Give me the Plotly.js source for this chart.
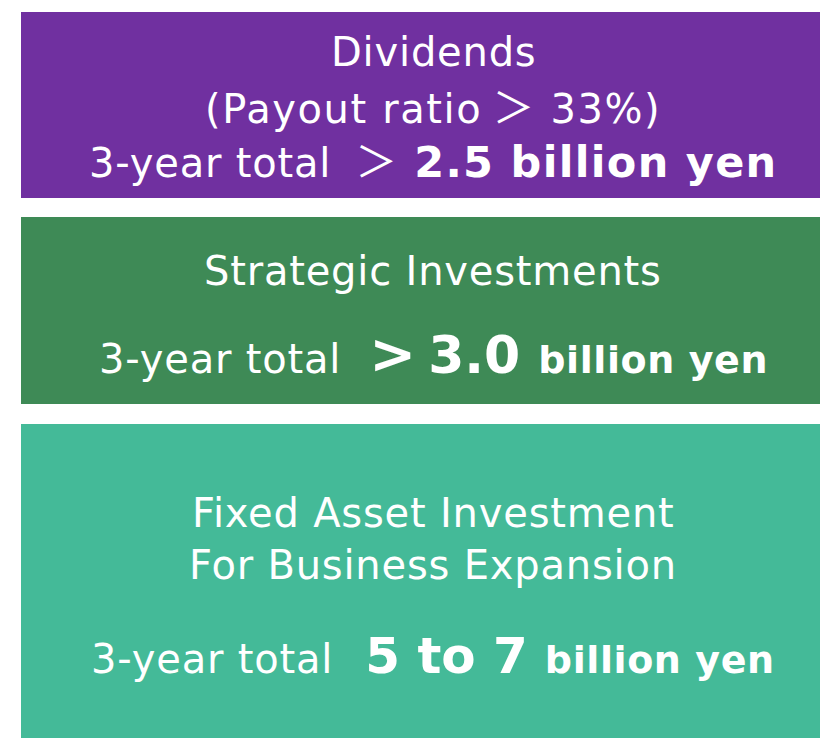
<!DOCTYPE html>
<html>
<head>
<meta charset="utf-8">
<script src="https://cdn.plot.ly/plotly-3.0.1.min.js"></script>
<style>html,body{margin:0;padding:0;background:#fff;}#chart{width:821px;height:738px;}</style>
</head>
<body>
<div id="chart"></div>
<script>
// ---- data ----
const categories = ["Dividends", "Strategic Investments", "Fixed Asset Investment"];
const headingLines = [
  ["Dividends", "(Payout ratio ＞ 33%)"],
  ["Strategic Investments"],
  ["Fixed Asset Investment", "For Business Expansion"]
];
const totalLabel = "3-year total";
const comparators = ["＞", ">", ""];
const amounts = ["2.5", "3.0", "5 to 7"];
const unitLabel = "billion yen";

// ---- layout / style constants ----
const W = 821, H = 738;
const boxLeft = 21, boxRight = 820;
const boxTop = [12, 217, 424];
const boxBottom = [198, 404, 738];
const boxColors = ["#7030A0", "#3E8A56", "#44BA98"];
const headingY = [[52, 104], [271], [513, 565]];
const totalY = [158, 353, 656];
const textCenterX = 433;
const FONT = "DejaVu Sans";
const CJK = "Noto Sans CJK JP";

const trace = {
  type: "bar",
  orientation: "h",
  y: categories.map((c, i) => (boxTop[i] + boxBottom[i]) / 2),
  x: categories.map(() => boxRight - boxLeft),
  base: boxLeft,
  width: categories.map((c, i) => boxBottom[i] - boxTop[i]),
  marker: { color: boxColors, line: { width: 0 } },
  text: categories,
  textposition: "none",
  hoverinfo: "text"
};

const sp = (txt, size, ls, bold, fam) => {
  const f = fam ? `font-family:'${fam}';` : "";
  const s = `<span style="${f}font-size:${size}px;letter-spacing:${ls}px">${txt}</span>`;
  return bold ? `<b>${s}</b>` : s;
};
const gap = (px) => `<span style="font-size:10px;letter-spacing:${px - 3.18}px">&nbsp;</span>`;
// render the full-width comparator with a CJK face
const fw = (txt, size) => {
  const parts = txt.split(" ＞ ");
  if (parts.length === 1) return sp(txt, size, 0.8, false);
  return parts.map(p => sp(p, size, 1.6, false))
    .join(gap(10) + sp("＞", size + 2, 0, false, CJK) + gap(16));
};

const annotations = [];
categories.forEach((c, i) => {
  headingLines[i].forEach((line, j) => {
    annotations.push({
      x: textCenterX, y: headingY[i][j], xref: "x", yref: "y",
      text: fw(line, 40), showarrow: false,
      font: { family: FONT, size: 40, color: "#ffffff" },
      xanchor: "center", yanchor: "middle"
    });
  });
  let t = sp(totalLabel, 40, 0.8, false);
  if (i === 0) {
    t += gap(24) + sp(comparators[i], 42, 0, false, CJK) + gap(17) + sp(amounts[i] + " " + unitLabel, 43, 1.3, true);
  } else if (i === 1) {
    t += gap(28) + sp(comparators[i], 56, 0, true) + gap(12) + sp(amounts[i], 52, 0, true) + gap(18) + sp(unitLabel, 38, 0.6, true);
  } else {
    t += gap(32) + sp(amounts[i], 50, 0, true) + gap(17) + sp(unitLabel, 38, 0.6, true);
  }
  annotations.push({
    x: textCenterX, y: totalY[i], xref: "x", yref: "y",
    text: t, showarrow: false,
    font: { family: FONT, size: 40, color: "#ffffff" },
    xanchor: "center", yanchor: "middle"
  });
});

const layout = {
  width: W, height: H,
  margin: { l: 0, r: 0, t: 0, b: 0, pad: 0 },
  paper_bgcolor: "#ffffff", plot_bgcolor: "#ffffff",
  showlegend: false,
  xaxis: { range: [0, W], visible: false, fixedrange: true },
  yaxis: { range: [H, 0], visible: false, fixedrange: true },
  annotations: annotations
};

Plotly.newPlot("chart", [trace], layout, { displayModeBar: false, staticPlot: true });
</script>
</body>
</html>
